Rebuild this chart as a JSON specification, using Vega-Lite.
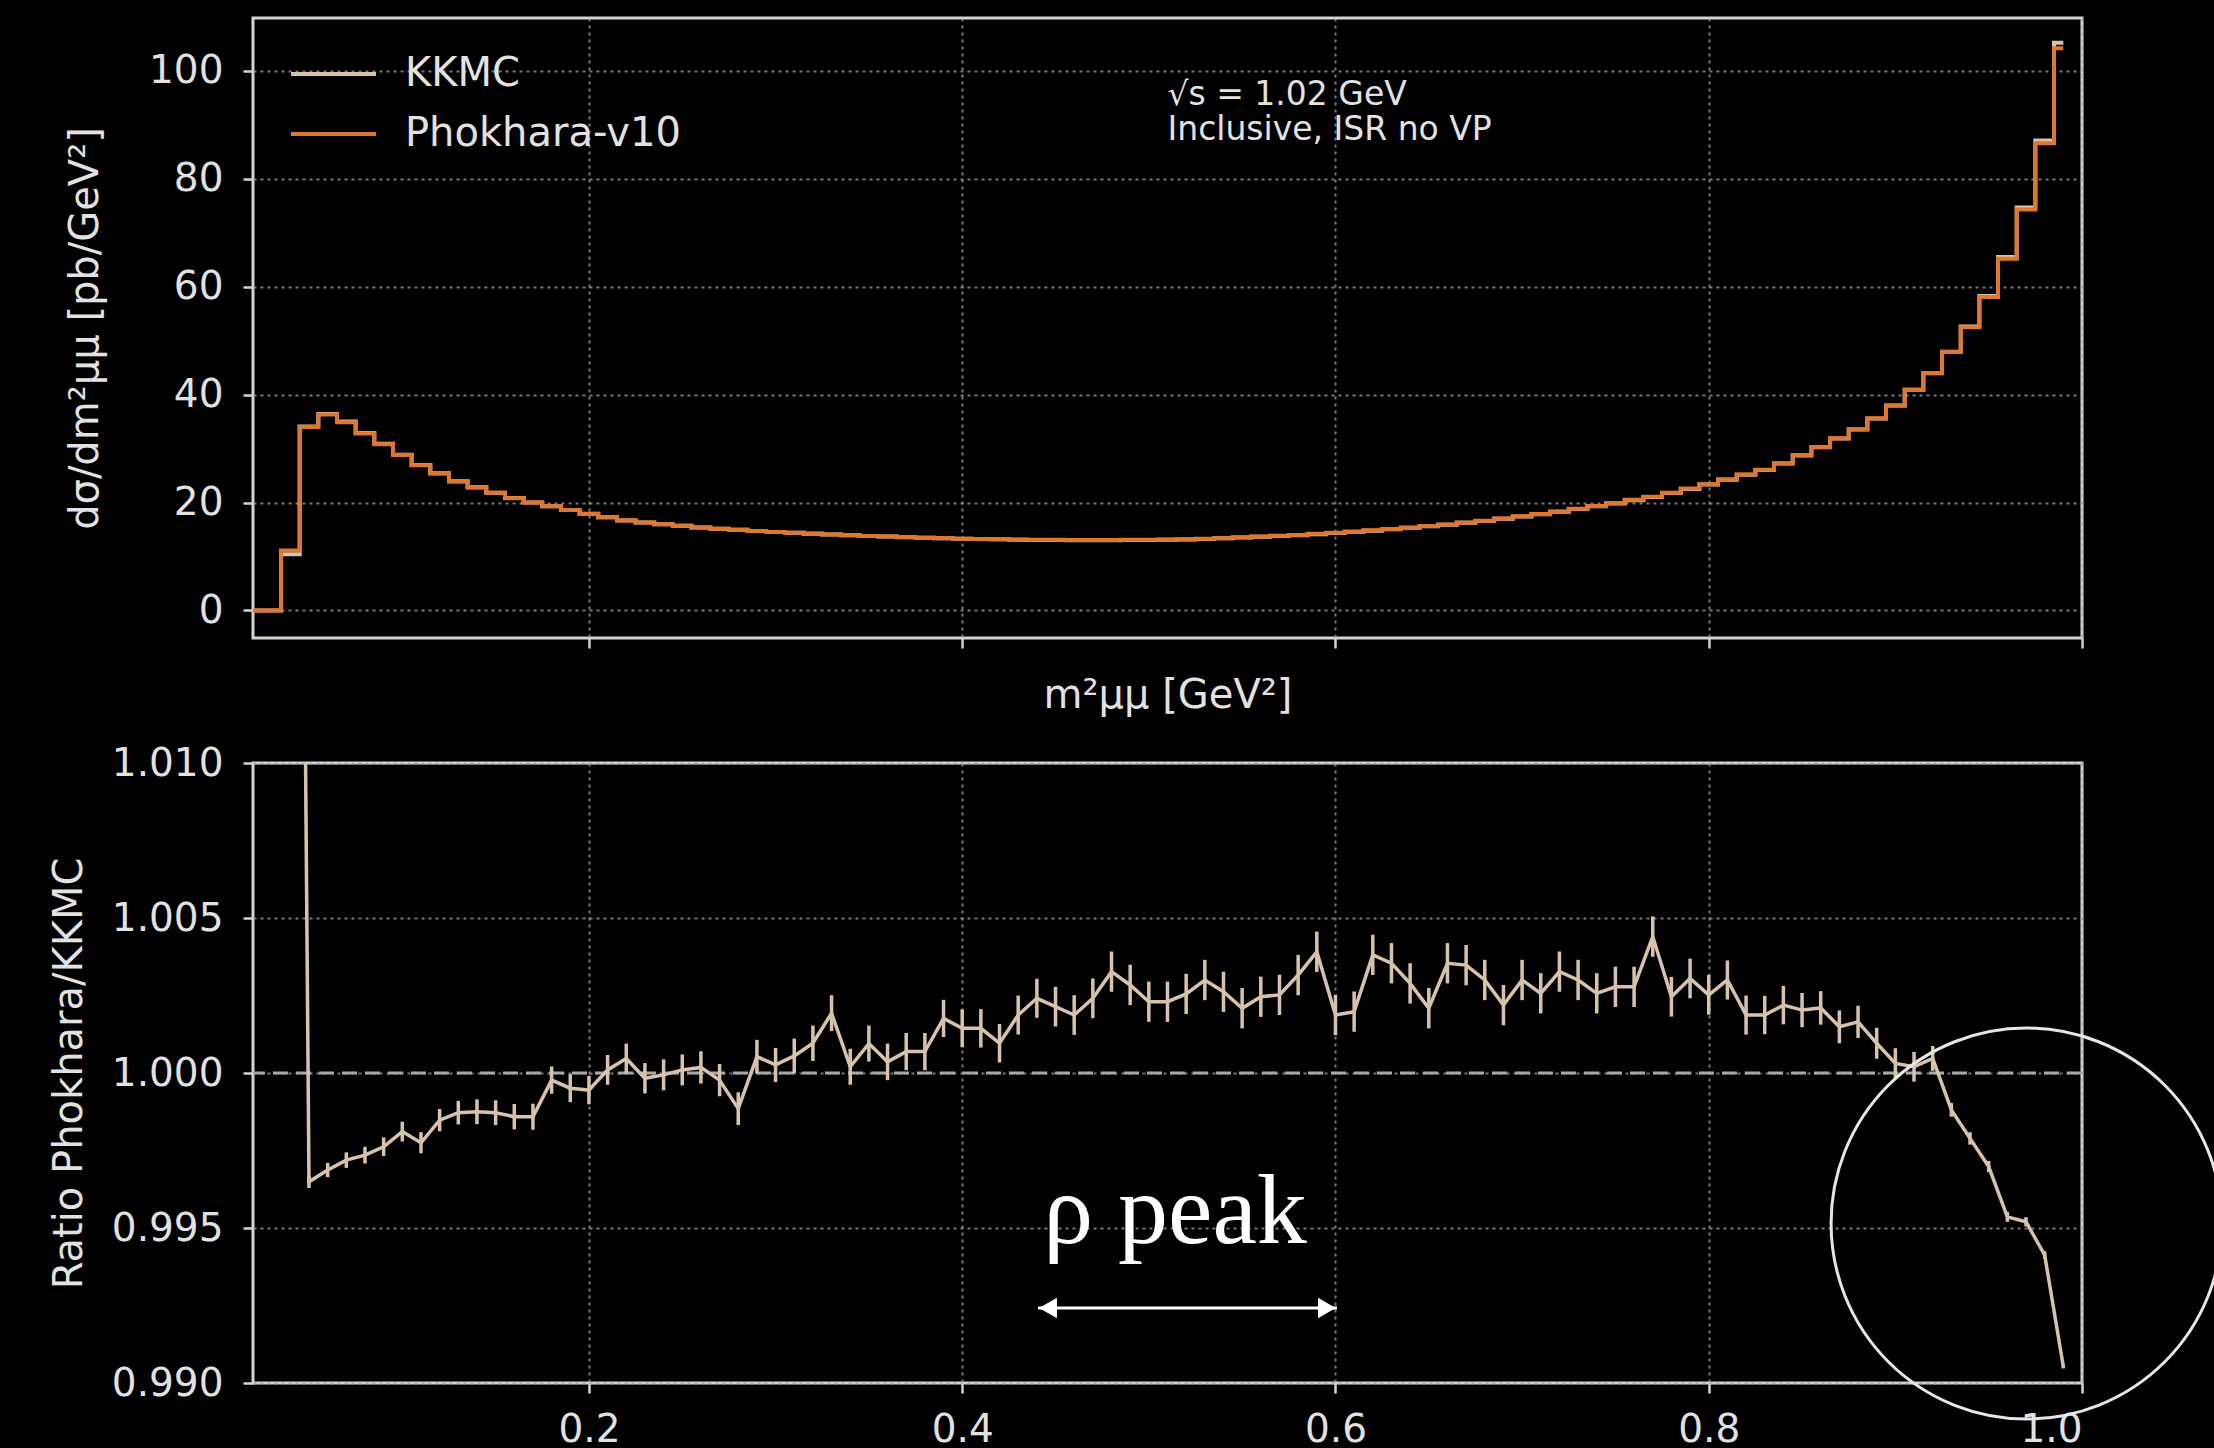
{
  "$schema": "https://vega.github.io/schema/vega-lite/v6.json",
  "background": "#000000",
  "padding": {"left": 47, "top": 16, "right": 5, "bottom": 5},
  "spacing": 125,
  "bounds": "flush",
  "config": {
    "font": "DejaVu Sans",
    "view": {"stroke": "#d4d4d4", "strokeWidth": 3},
    "axis": {
      "domain": false,
      "ticks": true,
      "tickColor": "#d4d4d4",
      "tickWidth": 2.5,
      "tickSize": 10,
      "labelColor": "#e2e2e2",
      "labelFont": "DejaVu Sans",
      "labelFontSize": 39,
      "titleColor": "#e2e2e2",
      "titleFont": "DejaVu Sans",
      "titleFontSize": 40,
      "titleFontWeight": "normal",
      "grid": true,
      "gridColor": "#a0a0a0",
      "gridDash": [3, 4],
      "gridWidth": 2,
      "gridOpacity": 0.75
    },
    "axisX": {"labelPadding": 17},
    "axisY": {"labelPadding": 20, "titleBaseline": "middle", "titleAngle": -90}
  },
  "datasets": {
    "bins": [
      {"x": 0.02, "phokhara": 0, "kkmc": 0, "ratio": null, "err": null},
      {"x": 0.03, "phokhara": 0, "kkmc": 0, "ratio": null, "err": null},
      {"x": 0.04, "phokhara": 11.1, "kkmc": 10.4, "ratio": 1.07, "err": null},
      {"x": 0.05, "phokhara": 34.0, "kkmc": 34.1, "ratio": 0.99649, "err": 0.0002},
      {"x": 0.06, "phokhara": 36.3, "kkmc": 36.4, "ratio": 0.99687, "err": 0.00023},
      {"x": 0.07, "phokhara": 34.9, "kkmc": 35.0, "ratio": 0.99719, "err": 0.00025},
      {"x": 0.08, "phokhara": 32.8, "kkmc": 32.9, "ratio": 0.99735, "err": 0.00027},
      {"x": 0.09, "phokhara": 30.8, "kkmc": 30.9, "ratio": 0.99762, "err": 0.0003},
      {"x": 0.10, "phokhara": 28.8, "kkmc": 28.85, "ratio": 0.99811, "err": 0.00032},
      {"x": 0.11, "phokhara": 26.9, "kkmc": 26.95, "ratio": 0.99775, "err": 0.00034},
      {"x": 0.12, "phokhara": 25.4, "kkmc": 25.44, "ratio": 0.99848, "err": 0.00036},
      {"x": 0.13, "phokhara": 23.9, "kkmc": 23.93, "ratio": 0.99872, "err": 0.00038},
      {"x": 0.14, "phokhara": 22.8, "kkmc": 22.83, "ratio": 0.99875, "err": 0.0004},
      {"x": 0.15, "phokhara": 21.8, "kkmc": 21.83, "ratio": 0.99872, "err": 0.0004},
      {"x": 0.16, "phokhara": 20.8, "kkmc": 20.83, "ratio": 0.99859, "err": 0.00041},
      {"x": 0.17, "phokhara": 20.0, "kkmc": 20.03, "ratio": 0.99859, "err": 0.00042},
      {"x": 0.18, "phokhara": 19.3, "kkmc": 19.3, "ratio": 0.99977, "err": 0.00044},
      {"x": 0.19, "phokhara": 18.6, "kkmc": 18.61, "ratio": 0.99951, "err": 0.00045},
      {"x": 0.20, "phokhara": 17.9, "kkmc": 17.91, "ratio": 0.99945, "err": 0.00046},
      {"x": 0.21, "phokhara": 17.3, "kkmc": 17.3, "ratio": 1.0001, "err": 0.00048},
      {"x": 0.22, "phokhara": 16.7, "kkmc": 16.69, "ratio": 1.00047, "err": 0.00048},
      {"x": 0.23, "phokhara": 16.3, "kkmc": 16.3, "ratio": 0.99983, "err": 0.00049},
      {"x": 0.24, "phokhara": 16.0, "kkmc": 16.0, "ratio": 0.99994, "err": 0.0005},
      {"x": 0.25, "phokhara": 15.7, "kkmc": 15.7, "ratio": 1.0001, "err": 0.0005},
      {"x": 0.26, "phokhara": 15.4, "kkmc": 15.4, "ratio": 1.00018, "err": 0.00052},
      {"x": 0.27, "phokhara": 15.15, "kkmc": 15.15, "ratio": 0.99977, "err": 0.00052},
      {"x": 0.28, "phokhara": 14.95, "kkmc": 14.97, "ratio": 0.99885, "err": 0.00053},
      {"x": 0.29, "phokhara": 14.75, "kkmc": 14.74, "ratio": 1.00053, "err": 0.00054},
      {"x": 0.30, "phokhara": 14.55, "kkmc": 14.55, "ratio": 1.00026, "err": 0.00055},
      {"x": 0.31, "phokhara": 14.4, "kkmc": 14.39, "ratio": 1.00055, "err": 0.00056},
      {"x": 0.32, "phokhara": 14.25, "kkmc": 14.24, "ratio": 1.00096, "err": 0.00057},
      {"x": 0.33, "phokhara": 14.1, "kkmc": 14.07, "ratio": 1.00193, "err": 0.00058},
      {"x": 0.34, "phokhara": 13.95, "kkmc": 13.95, "ratio": 1.0002, "err": 0.00058},
      {"x": 0.35, "phokhara": 13.8, "kkmc": 13.79, "ratio": 1.00095, "err": 0.00058},
      {"x": 0.36, "phokhara": 13.7, "kkmc": 13.7, "ratio": 1.00036, "err": 0.00059},
      {"x": 0.37, "phokhara": 13.6, "kkmc": 13.59, "ratio": 1.00069, "err": 0.0006},
      {"x": 0.38, "phokhara": 13.5, "kkmc": 13.49, "ratio": 1.00069, "err": 0.0006},
      {"x": 0.39, "phokhara": 13.4, "kkmc": 13.38, "ratio": 1.00176, "err": 0.0006},
      {"x": 0.40, "phokhara": 13.3, "kkmc": 13.28, "ratio": 1.00144, "err": 0.00061},
      {"x": 0.41, "phokhara": 13.25, "kkmc": 13.23, "ratio": 1.00144, "err": 0.00062},
      {"x": 0.42, "phokhara": 13.2, "kkmc": 13.19, "ratio": 1.00096, "err": 0.00062},
      {"x": 0.43, "phokhara": 13.15, "kkmc": 13.13, "ratio": 1.00187, "err": 0.00063},
      {"x": 0.44, "phokhara": 13.1, "kkmc": 13.07, "ratio": 1.00241, "err": 0.00063},
      {"x": 0.45, "phokhara": 13.1, "kkmc": 13.07, "ratio": 1.00214, "err": 0.00064},
      {"x": 0.46, "phokhara": 13.05, "kkmc": 13.03, "ratio": 1.00187, "err": 0.00064},
      {"x": 0.47, "phokhara": 13.05, "kkmc": 13.02, "ratio": 1.00241, "err": 0.00064},
      {"x": 0.48, "phokhara": 13.05, "kkmc": 13.01, "ratio": 1.00327, "err": 0.00065},
      {"x": 0.49, "phokhara": 13.1, "kkmc": 13.06, "ratio": 1.00284, "err": 0.00065},
      {"x": 0.50, "phokhara": 13.1, "kkmc": 13.07, "ratio": 1.0023, "err": 0.00065},
      {"x": 0.51, "phokhara": 13.15, "kkmc": 13.12, "ratio": 1.0023, "err": 0.00065},
      {"x": 0.52, "phokhara": 13.2, "kkmc": 13.17, "ratio": 1.00255, "err": 0.00065},
      {"x": 0.53, "phokhara": 13.3, "kkmc": 13.26, "ratio": 1.003, "err": 0.00065},
      {"x": 0.54, "phokhara": 13.4, "kkmc": 13.37, "ratio": 1.00262, "err": 0.00065},
      {"x": 0.55, "phokhara": 13.55, "kkmc": 13.52, "ratio": 1.00209, "err": 0.00065},
      {"x": 0.56, "phokhara": 13.7, "kkmc": 13.67, "ratio": 1.00246, "err": 0.00065},
      {"x": 0.57, "phokhara": 13.85, "kkmc": 13.82, "ratio": 1.00252, "err": 0.00065},
      {"x": 0.58, "phokhara": 14.0, "kkmc": 13.96, "ratio": 1.00316, "err": 0.00065},
      {"x": 0.59, "phokhara": 14.2, "kkmc": 14.14, "ratio": 1.00391, "err": 0.00065},
      {"x": 0.60, "phokhara": 14.4, "kkmc": 14.37, "ratio": 1.00187, "err": 0.00065},
      {"x": 0.61, "phokhara": 14.6, "kkmc": 14.57, "ratio": 1.00198, "err": 0.00065},
      {"x": 0.62, "phokhara": 14.85, "kkmc": 14.79, "ratio": 1.00381, "err": 0.00065},
      {"x": 0.63, "phokhara": 15.1, "kkmc": 15.05, "ratio": 1.00354, "err": 0.00065},
      {"x": 0.64, "phokhara": 15.35, "kkmc": 15.31, "ratio": 1.00289, "err": 0.00065},
      {"x": 0.65, "phokhara": 15.65, "kkmc": 15.62, "ratio": 1.00209, "err": 0.00065},
      {"x": 0.66, "phokhara": 15.95, "kkmc": 15.89, "ratio": 1.00354, "err": 0.00065},
      {"x": 0.67, "phokhara": 16.3, "kkmc": 16.24, "ratio": 1.00348, "err": 0.00065},
      {"x": 0.68, "phokhara": 16.65, "kkmc": 16.6, "ratio": 1.003, "err": 0.00065},
      {"x": 0.69, "phokhara": 17.05, "kkmc": 17.01, "ratio": 1.00219, "err": 0.00065},
      {"x": 0.70, "phokhara": 17.45, "kkmc": 17.4, "ratio": 1.003, "err": 0.00065},
      {"x": 0.71, "phokhara": 17.9, "kkmc": 17.85, "ratio": 1.00257, "err": 0.00065},
      {"x": 0.72, "phokhara": 18.35, "kkmc": 18.29, "ratio": 1.00327, "err": 0.00065},
      {"x": 0.73, "phokhara": 18.85, "kkmc": 18.79, "ratio": 1.003, "err": 0.00065},
      {"x": 0.74, "phokhara": 19.35, "kkmc": 19.3, "ratio": 1.00257, "err": 0.00065},
      {"x": 0.75, "phokhara": 19.9, "kkmc": 19.84, "ratio": 1.00278, "err": 0.00065},
      {"x": 0.76, "phokhara": 20.5, "kkmc": 20.44, "ratio": 1.00278, "err": 0.00065},
      {"x": 0.77, "phokhara": 21.1, "kkmc": 21.01, "ratio": 1.0044, "err": 0.00065},
      {"x": 0.78, "phokhara": 21.8, "kkmc": 21.75, "ratio": 1.00246, "err": 0.00064},
      {"x": 0.79, "phokhara": 22.6, "kkmc": 22.53, "ratio": 1.00305, "err": 0.00064},
      {"x": 0.80, "phokhara": 23.4, "kkmc": 23.34, "ratio": 1.00252, "err": 0.00064},
      {"x": 0.81, "phokhara": 24.3, "kkmc": 24.23, "ratio": 1.003, "err": 0.00063},
      {"x": 0.82, "phokhara": 25.2, "kkmc": 25.15, "ratio": 1.00187, "err": 0.00063},
      {"x": 0.83, "phokhara": 26.1, "kkmc": 26.05, "ratio": 1.00187, "err": 0.00062},
      {"x": 0.84, "phokhara": 27.3, "kkmc": 27.24, "ratio": 1.00219, "err": 0.00062},
      {"x": 0.85, "phokhara": 28.8, "kkmc": 28.74, "ratio": 1.00203, "err": 0.00055},
      {"x": 0.86, "phokhara": 30.3, "kkmc": 30.24, "ratio": 1.0021, "err": 0.00054},
      {"x": 0.87, "phokhara": 31.9, "kkmc": 31.85, "ratio": 1.00149, "err": 0.00053},
      {"x": 0.88, "phokhara": 33.6, "kkmc": 33.54, "ratio": 1.00165, "err": 0.00052},
      {"x": 0.89, "phokhara": 35.6, "kkmc": 35.57, "ratio": 1.00096, "err": 0.0005},
      {"x": 0.90, "phokhara": 38.0, "kkmc": 37.99, "ratio": 1.00031, "err": 0.00049},
      {"x": 0.91, "phokhara": 40.9, "kkmc": 40.89, "ratio": 1.0002, "err": 0.00048},
      {"x": 0.92, "phokhara": 44.0, "kkmc": 43.98, "ratio": 1.00047, "err": 0.0004},
      {"x": 0.93, "phokhara": 47.9, "kkmc": 47.96, "ratio": 0.99881, "err": 0.00022},
      {"x": 0.94, "phokhara": 52.5, "kkmc": 52.61, "ratio": 0.99789, "err": 0.0002},
      {"x": 0.95, "phokhara": 58.1, "kkmc": 58.28, "ratio": 0.99698, "err": 0.00018},
      {"x": 0.96, "phokhara": 65.2, "kkmc": 65.5, "ratio": 0.99536, "err": 0.00016},
      {"x": 0.97, "phokhara": 74.3, "kkmc": 74.66, "ratio": 0.9952, "err": 0.00015},
      {"x": 0.98, "phokhara": 86.6, "kkmc": 87.11, "ratio": 0.99413, "err": 0.00012},
      {"x": 0.99, "phokhara": 104.2, "kkmc": 105.2, "ratio": 0.99053, "err": 0.00006}
    ]
  },
  "vconcat": [
    {
      "width": 1829,
      "height": 620,
      "layer": [
        {
          "data": {"name": "bins"},
          "transform": [{"fold": ["kkmc", "phokhara"], "as": ["series", "value"]}],
          "mark": {"type": "line", "interpolate": "step", "strokeWidth": 4},
          "encoding": {
            "x": {
              "field": "x", "type": "quantitative",
              "scale": {"domain": [0.02, 1.0], "nice": false, "zero": false},
              "axis": {"values": [0.2, 0.4, 0.6, 0.8, 1.0], "labels": false, "title": "m²μμ [GeV²]", "titlePadding": 26}
            },
            "y": {
              "field": "value", "type": "quantitative",
              "scale": {"domain": [-5.1, 109.8], "nice": false, "zero": false},
              "axis": {"values": [0, 20, 40, 60, 80, 100], "title": "dσ/dm²μμ  [pb/GeV²]", "titleX": -168, "titleY": 310}
            },
            "color": {
              "field": "series", "type": "nominal",
              "scale": {"domain": ["kkmc", "phokhara"], "range": ["#d7c3ab", "#de7830"]},
              "legend": {
                "orient": "none", "legendX": 36, "legendY": 27, "title": null,
                "labelExpr": "datum.label == 'kkmc' ? 'KKMC' : 'Phokhara-v10'",
                "symbolType": "stroke", "symbolSize": 7225, "symbolStrokeWidth": 4,
                "labelFontSize": 40, "labelColor": "#e2e2e2", "labelFont": "DejaVu Sans",
                "labelLimit": 0, "clipHeight": 58,
                "labelOffset": 27, "rowPadding": 2, "padding": 0
              }
            }
          }
        },
        {
          "data": {"values": [{}]},
          "mark": {"type": "text", "text": "√s = 1.02 GeV", "align": "left", "baseline": "middle", "fontSize": 33, "color": "#e2e2e2"},
          "encoding": {"x": {"datum": 0.51}, "y": {"datum": 95.5}}
        },
        {
          "data": {"values": [{}]},
          "mark": {"type": "text", "text": "Inclusive, ISR no VP", "align": "left", "baseline": "middle", "fontSize": 33, "color": "#e2e2e2"},
          "encoding": {"x": {"datum": 0.51}, "y": {"datum": 89.0}}
        }
      ]
    },
    {
      "width": 1829,
      "height": 620,
      "layer": [
        {
          "data": {"values": [{}]},
          "mark": {"type": "rule", "color": "#a8a8a8", "strokeWidth": 3, "strokeDash": [15, 8]},
          "encoding": {"y": {"datum": 1.0}}
        },
        {
          "data": {"name": "bins"},
          "transform": [{"filter": "datum.err != null"}],
          "mark": {"type": "errorbar", "ticks": false, "color": "#d7c3ab", "thickness": 3.5},
          "encoding": {
            "x": {
              "field": "x", "type": "quantitative",
              "scale": {"domain": [0.02, 1.0], "nice": false, "zero": false},
              "axis": {"values": [0.2, 0.4, 0.6, 0.8, 1.0], "format": ".1f", "title": null}
            },
            "y": {
              "field": "ratio", "type": "quantitative",
              "scale": {"domain": [0.99, 1.01], "nice": false, "zero": false},
              "axis": {"values": [0.99, 0.995, 1.0, 1.005, 1.01], "format": ".3f", "title": "Ratio Phokhara/KKMC", "titleX": -184, "titleY": 310}
            },
            "yError": {"field": "err"}
          }
        },
        {
          "data": {"name": "bins"},
          "transform": [{"filter": "datum.ratio != null"}],
          "mark": {"type": "line", "color": "#d7c3ab", "strokeWidth": 3.5, "clip": true},
          "encoding": {
            "x": {
              "field": "x", "type": "quantitative",
              "scale": {"domain": [0.02, 1.0], "nice": false, "zero": false},
              "axis": {"values": [0.2, 0.4, 0.6, 0.8, 1.0], "format": ".1f", "title": null}
            },
            "y": {
              "field": "ratio", "type": "quantitative",
              "scale": {"domain": [0.99, 1.01], "nice": false, "zero": false},
              "axis": {"values": [0.99, 0.995, 1.0, 1.005, 1.01], "format": ".3f", "title": "Ratio Phokhara/KKMC", "titleX": -184, "titleY": 310}
            }
          }
        },
        {
          "data": {"values": [{}]},
          "mark": {"type": "point", "shape": "circle", "filled": false, "size": 152881, "stroke": "#e6e6e6", "strokeWidth": 3, "opacity": 1},
          "encoding": {"x": {"datum": 0.9703}, "y": {"datum": 0.995145}}
        },
        {
          "data": {"values": [{}]},
          "mark": {"type": "text", "text": "ρ peak", "font": "Liberation Serif", "fontSize": 100, "color": "#ffffff", "align": "center", "baseline": "alphabetic"},
          "encoding": {"x": {"datum": 0.514}, "y": {"datum": 0.99452}}
        },
        {
          "data": {"values": [{}]},
          "mark": {"type": "rule", "color": "#ffffff", "strokeWidth": 3},
          "encoding": {"x": {"datum": 0.4406}, "x2": {"datum": 0.6008}, "y": {"datum": 0.99242}}
        },
        {
          "data": {"values": [{}]},
          "mark": {"type": "point", "shape": "triangle-left", "filled": true, "size": 420, "color": "#ffffff", "opacity": 1},
          "encoding": {"x": {"datum": 0.446}, "y": {"datum": 0.99242}}
        },
        {
          "data": {"values": [{}]},
          "mark": {"type": "point", "shape": "triangle-right", "filled": true, "size": 420, "color": "#ffffff", "opacity": 1},
          "encoding": {"x": {"datum": 0.5954}, "y": {"datum": 0.99242}}
        }
      ]
    }
  ]
}
